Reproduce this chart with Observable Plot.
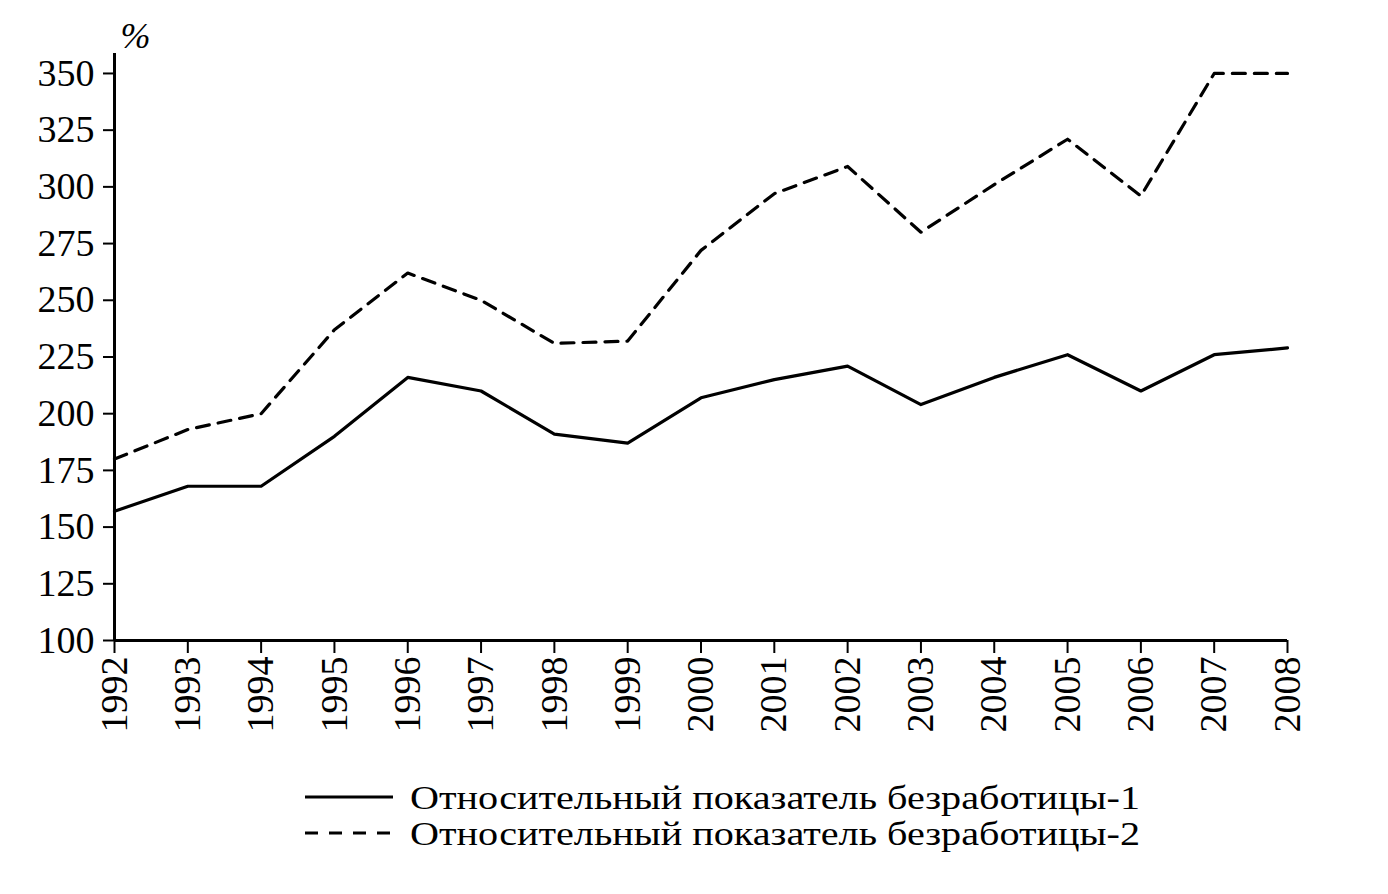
<!DOCTYPE html>
<html>
<head>
<meta charset="utf-8">
<script src="https://cdn.jsdelivr.net/npm/d3@7"></script>
<script src="https://cdn.jsdelivr.net/npm/@observablehq/plot@0.6"></script>
<style>
  body { margin: 0; background: #fff; font-family: "Liberation Serif", serif; }
  #chart svg { display: block; }
  #legend { display: block; }
</style>
</head>
<body>
<div id="chart"></div>
<div id="legend"></div>
<script>
const years = [1992,1993,1994,1995,1996,1997,1998,1999,2000,2001,2002,2003,2004,2005,2006,2007,2008];
const series1 = [157,168,168,190,216,210,191,187,207,215,221,204,216,226,210,226,229];
const series2 = [180,193,200,237,262,250,231,232,272,297,309,280,301,321,296,350,350];
const seriesNames = ["Относительный показатель безработицы-1", "Относительный показатель безработицы-2"];
const yTicks = [100,125,150,175,200,225,250,275,300,325,350];

const data = [];
years.forEach((yr, i) => {
  data.push({year: yr, value: series1[i], s: seriesNames[0]});
  data.push({year: yr, value: series2[i], s: seriesNames[1]});
});

const font = "Liberation Serif";
const plot = Plot.plot({
  width: 1388,
  height: 760,
  marginLeft: 114,
  marginRight: 101,
  marginTop: 53,
  marginBottom: 120,
  style: {fontFamily: font, fontSize: "38px", color: "#000", background: "#fff"},
  x: {domain: [1992, 2008], ticks: years, tickFormat: d => String(d)},
  y: {domain: [100, 358.8], ticks: yTicks},
  marks: [
    Plot.axisY({ticks: yTicks, tickSize: 11, tickPadding: 9, label: null, strokeWidth: 2, fontSize: 38}),
    Plot.axisX({ticks: years, tickFormat: d => String(d), tickSize: 13, tickPadding: 3, tickRotate: -90, label: null, strokeWidth: 2, fontSize: 38}),
    Plot.ruleX([1992], {stroke: "#000", strokeWidth: 3}),
    Plot.ruleY([100], {stroke: "#000", strokeWidth: 3}),
    Plot.line(data.filter(d => d.s === seriesNames[0]), {x: "year", y: "value", stroke: "#000", strokeWidth: 3.2}),
    Plot.line(data.filter(d => d.s === seriesNames[1]), {x: "year", y: "value", stroke: "#000", strokeWidth: 3.2, strokeDasharray: "13 9"}),
    Plot.text(["%"], {frameAnchor: "top-left", dx: 6, dy: -6, lineAnchor: "bottom", textAnchor: "start", fontSize: 36, fontStyle: "italic", fill: "#000"})
  ]
});
document.getElementById("chart").appendChild(plot);

// Legend below the chart
const lg = d3.select("#legend").append("svg").attr("width", 1388).attr("height", 134);
seriesNames.forEach((name, i) => {
  const cy = 37 + i * 36;
  lg.append("line").attr("x1", 305).attr("x2", 393).attr("y1", cy).attr("y2", cy)
    .attr("stroke", "#000").attr("stroke-width", 3)
    .attr("stroke-dasharray", i === 0 ? null : "13 11");
  lg.append("text").attr("x", 410).attr("y", cy + 12)
    .attr("font-family", font).attr("font-size", 34).attr("fill", "#000")
    .attr("textLength", 730).attr("lengthAdjust", "spacingAndGlyphs")
    .text(name);
});
</script>
</body>
</html>
